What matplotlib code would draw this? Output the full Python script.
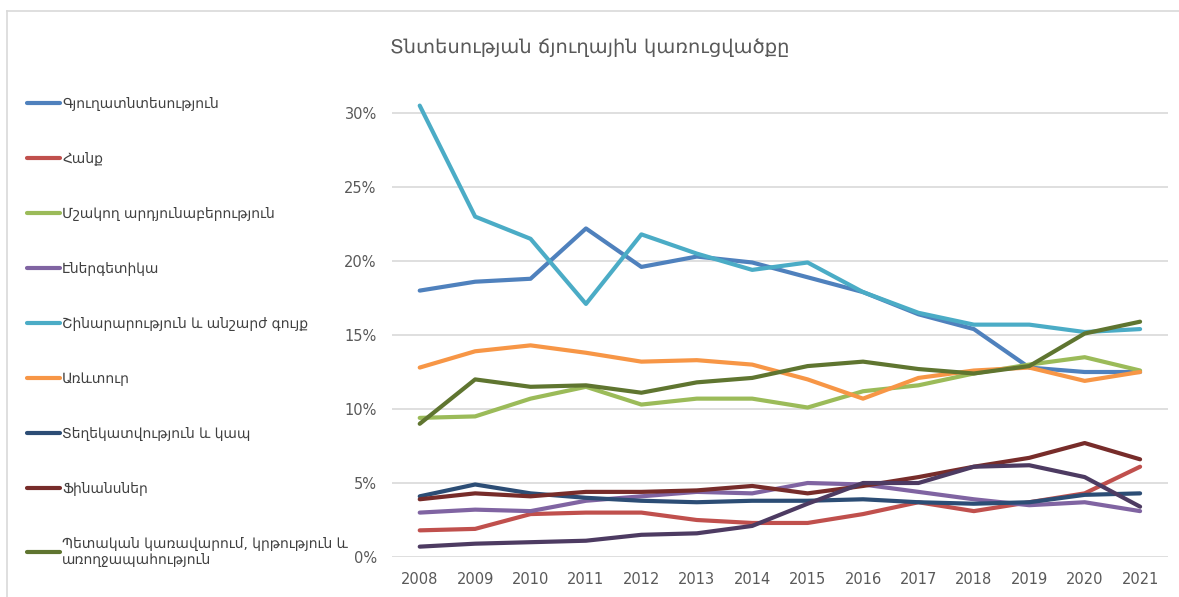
import matplotlib.pyplot as plt
from matplotlib.lines import Line2D
from matplotlib.ticker import PercentFormatter

plt.rcParams['font.family'] = ['DejaVu Sans']

years = list(range(2008, 2022))

agriculture = [18.0, 18.6, 18.8, 22.2, 19.6, 20.3, 19.9, 18.9, 17.9, 16.4, 15.4, 12.8, 12.5, 12.5]
mining = [1.8, 1.9, 2.9, 3.0, 3.0, 2.5, 2.3, 2.3, 2.9, 3.7, 3.1, 3.7, 4.3, 6.1]
manufacturing = [9.4, 9.5, 10.7, 11.5, 10.3, 10.7, 10.7, 10.1, 11.2, 11.6, 12.4, 13.0, 13.5, 12.6]
energy = [3.0, 3.2, 3.1, 3.8, 4.1, 4.4, 4.3, 5.0, 4.9, 4.4, 3.9, 3.5, 3.7, 3.1]
construction = [30.5, 23.0, 21.5, 17.1, 21.8, 20.5, 19.4, 19.9, 17.9, 16.5, 15.7, 15.7, 15.2, 15.4]
trade = [12.8, 13.9, 14.3, 13.8, 13.2, 13.3, 13.0, 12.0, 10.7, 12.1, 12.6, 12.8, 11.9, 12.5]
ict = [4.1, 4.9, 4.3, 4.0, 3.8, 3.7, 3.8, 3.8, 3.9, 3.7, 3.6, 3.7, 4.2, 4.3]
finance = [3.9, 4.3, 4.1, 4.4, 4.4, 4.5, 4.8, 4.3, 4.8, 5.4, 6.1, 6.7, 7.7, 6.6]
public = [9.0, 12.0, 11.5, 11.6, 11.1, 11.8, 12.1, 12.9, 13.2, 12.7, 12.4, 12.9, 15.1, 15.9]
other = [0.7, 0.9, 1.0, 1.1, 1.5, 1.6, 2.1, 3.6, 5.0, 5.0, 6.1, 6.2, 5.4, 3.4]

labels = [
    'Գյուղատնտեսություն',
    'Հանք',
    'Մշակող արդյունաբերություն',
    'Էներգետիկա',
    'Շինարարություն և անշարժ գույք',
    'Առևտուր',
    'Տեղեկատվություն և կապ',
    'Ֆինանսներ',
    'Պետական կառավարում, կրթություն և\nառողջապահություն',
]
series = [agriculture, mining, manufacturing, energy, construction,
          trade, ict, finance, public]
colors = ['#4F81BD', '#C0504D', '#9BBB59', '#8064A2', '#4BACC6',
          '#F79646', '#2C4D75', '#772C2A', '#5F7530']

fig = plt.figure(figsize=(11.79, 5.97), dpi=100)
ax = fig.add_axes([0.3325, 0.067, 0.658, 0.7685])

handles = []
for vals, c, lab in zip(series, colors, labels):
    ln, = ax.plot(years, vals, color=c, lw=3, label=lab, clip_on=False,
                  solid_capstyle='round', solid_joinstyle='round')
    handles.append(ln)
# unlabeled tenth series
ax.plot(years, other, color='#4D3B62', lw=3, clip_on=False,
        solid_capstyle='round', solid_joinstyle='round')

ax.set_xlim(2007.5, 2021.5)
ax.set_ylim(0, 31)
ax.set_yticks([0, 5, 10, 15, 20, 25, 30])
ax.set_xticks(years)
ax.yaxis.set_major_formatter(PercentFormatter(decimals=0))
ax.grid(axis='y', color='#D9D9D9', lw=1.2)
ax.set_axisbelow(True)
for s in ax.spines.values():
    s.set_visible(False)
ax.tick_params(length=0, labelsize=10.5, colors='#595959', pad=11)

fig.text(0.5, 0.921, 'Տնտեսության ճյուղային կառուցվածքը', ha='center', va='center',
         fontsize=14, color='#595959')

leg = fig.legend(handles=handles, loc='upper left', bbox_to_anchor=(0.018, 0.847),
                 frameon=False, fontsize=10, labelcolor='#404040',
                 handlelength=2.4, handletextpad=0.15, labelspacing=2.95,
                 borderaxespad=0)

# chart border (top and left visible)
fig.add_artist(Line2D([0.006, 1.0], [0.9816, 0.9816], transform=fig.transFigure,
                      color='#D9D9D9', lw=1.2))
fig.add_artist(Line2D([0.006, 0.006], [0.0, 0.9816], transform=fig.transFigure,
                      color='#D9D9D9', lw=1.2))

fig.savefig('out.png', dpi=100)
